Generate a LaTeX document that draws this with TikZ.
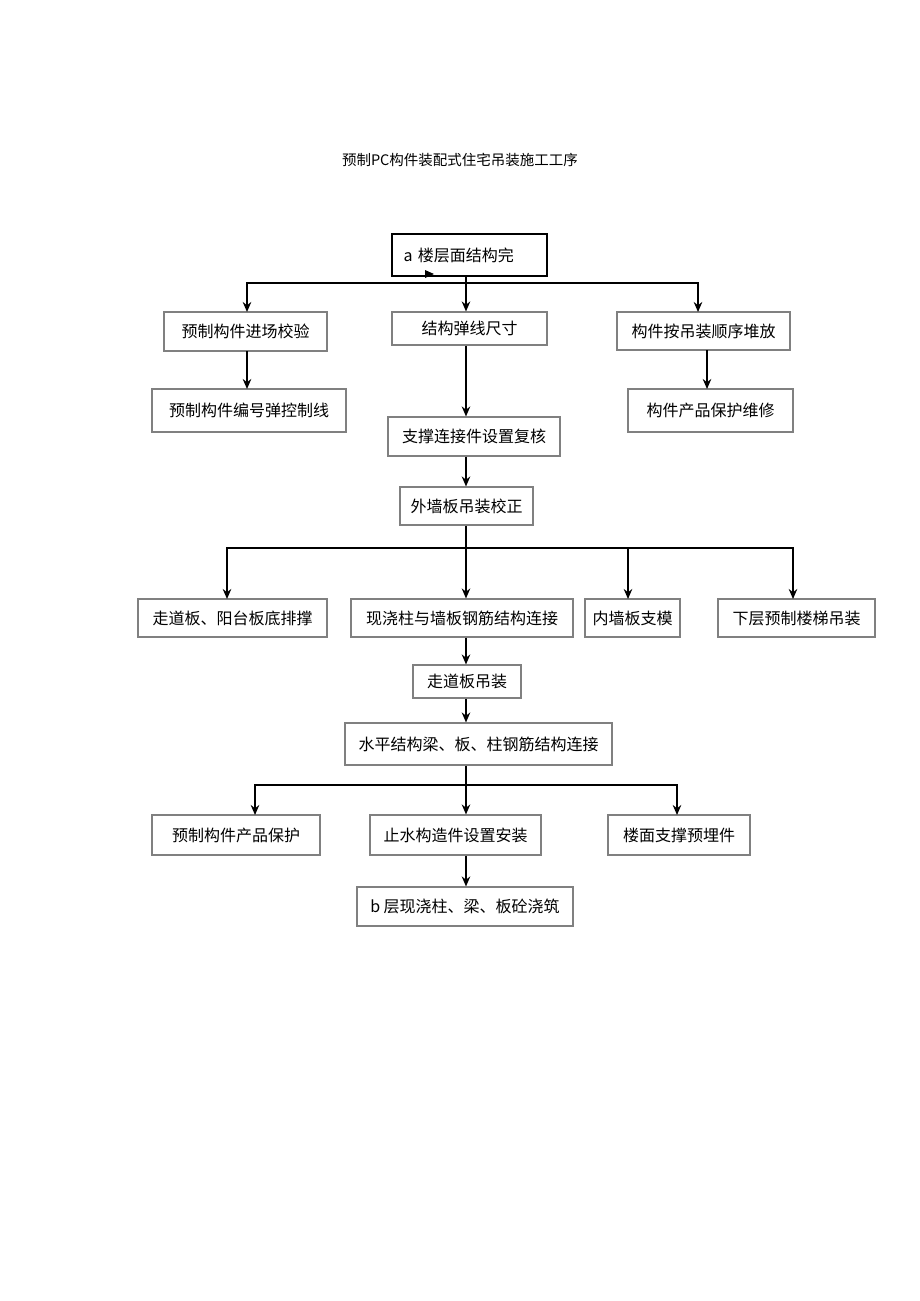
\documentclass[tikz,border=0pt]{standalone}
\usepackage{fontspec}
\usetikzlibrary{arrows.meta}
\setmainfont{Noto Sans CJK SC}
\definecolor{boxgray}{RGB}{128,128,128}
\begin{document}
\begin{tikzpicture}[x=1pt,y=-1pt,>={Stealth[length=10pt,width=8.5pt]},line width=2pt,
  box/.style={draw=boxgray,line width=1.1pt,inner sep=0pt,font=\fontsize{16}{19}\selectfont}]
\useasboundingbox[fill=white] (0,0) rectangle (920,1301);
\node[font=\fontsize{14.5}{17}\selectfont] (title) at (460,160){预制PC构件装配式住宅吊装施工工序};

\node[box,draw=black,line width=1.8pt,minimum width=155pt,minimum height=42pt,text width=132pt,align=left] (a) at (469.5,255){a 楼层面结构完};
\fill (425,270) -- (434,274) -- (425,278) -- cycle;

\node[box,minimum width=163pt,minimum height=39pt] (b1) at (245.5,331.5){预制构件进场校验};
\node[box,minimum width=155pt,minimum height=33pt] (b2) at (469.5,328.5){结构弹线尺寸};
\node[box,minimum width=173pt,minimum height=38pt] (b3) at (703.5,331){构件按吊装顺序堆放};

\node[box,minimum width=194pt,minimum height=43pt] (c1) at (249,410.5){预制构件编号弹控制线};
\node[box,minimum width=172pt,minimum height=39pt] (c2) at (474,436.5){支撑连接件设置复核};
\node[box,minimum width=165pt,minimum height=43pt] (c3) at (710.5,410.5){构件产品保护维修};

\node[box,minimum width=133pt,minimum height=38pt] (d) at (466.5,506){外墙板吊装校正};

\node[box,minimum width=189pt,minimum height=38pt] (e1) at (232.5,618){走道板、阳台板底排撑};
\node[box,minimum width=222pt,minimum height=38pt] (e2) at (462,618){现浇柱与墙板钢筋结构连接};
\node[box,minimum width=95pt,minimum height=38pt] (e3) at (632.5,618){内墙板支模};
\node[box,minimum width=157pt,minimum height=38pt] (e4) at (796.5,618){下层预制楼梯吊装};

\node[box,minimum width=108pt,minimum height=33pt] (f) at (467,681.5){走道板吊装};
\node[box,minimum width=267pt,minimum height=42pt] (g) at (478.5,744){水平结构梁、板、柱钢筋结构连接};

\node[box,minimum width=168pt,minimum height=40pt] (h1) at (236,835){预制构件产品保护};
\node[box,minimum width=171pt,minimum height=40pt] (h2) at (455.5,835){止水构造件设置安装};
\node[box,minimum width=142pt,minimum height=40pt] (h3) at (679,835){楼面支撑预埋件};

\node[box,minimum width=216pt,minimum height=39pt] (k) at (465,906.5){b 层现浇柱、梁、板砼浇筑};

\coordinate (sp) at (466,0);
\coordinate (j1) at (466,283);
\draw[->] (sp |- a.south) -- (sp |- b2.north);
\draw[->] (j1) -| (247,312);
\draw[->] (j1) -| (698,312);
\draw[->] (247,351) -- (247,389);
\draw[->] (sp |- b2.south) -- (sp |- c2.north);
\draw[->] (707,350) -- (707,389);
\draw[->] (sp |- c2.south) -- (sp |- d.north);

\coordinate (j2) at (466,548);
\draw[->] (sp |- d.south) -- (sp |- e2.north);
\draw[->] (j2) -| (227,599);
\draw[->] (j2) -| (628,599);
\draw[->] (j2) -| (793,599);
\draw[->] (sp |- e2.south) -- (sp |- f.north);
\draw[->] (sp |- f.south) -- (sp |- g.north);

\coordinate (j3) at (466,785);
\draw[->] (sp |- g.south) -- (sp |- h2.north);
\draw[->] (j3) -| (255,815);
\draw[->] (j3) -| (677,815);
\draw[->] (sp |- h2.south) -- (sp |- k.north);
\end{tikzpicture}
\end{document}
